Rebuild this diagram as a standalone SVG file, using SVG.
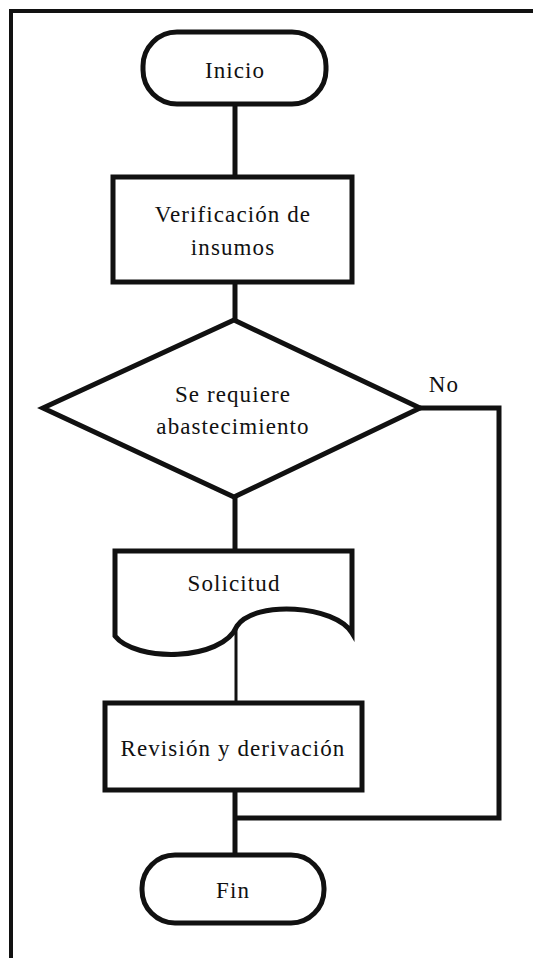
<svg xmlns="http://www.w3.org/2000/svg" width="533" height="958" viewBox="0 0 533 958">
<style>
.s{fill:#fff;stroke:#111;stroke-width:5}
.c{fill:none;stroke:#111;stroke-width:5}
.t{font-family:"Liberation Serif","Times New Roman",serif;font-size:23px;letter-spacing:1.1px;fill:#111;text-anchor:middle}
</style>
<rect width="533" height="958" fill="#fff"/>
<g id="frame"><path d="M11,958 V11 H533" fill="none" stroke="#111" stroke-width="4"/></g>
<g id="connectors">
<path class="c" d="M235,104 V177"/>
<path class="c" d="M235,282 V320"/>
<path class="c" d="M235,497 V551"/>
<path d="M236,628 V703" fill="none" stroke="#111" stroke-width="3"/>
<path class="c" d="M235,790 V855"/>
<path class="c" d="M420,408 H499 V818 H235"/>
<text class="t" x="444" y="392">No</text>
</g>
<g id="inicio"><rect class="s" x="143" y="32" width="183" height="72" rx="34" ry="34"/><text class="t" x="235" y="78">Inicio</text></g>
<g id="verificacion"><rect class="s" x="113" y="177" width="239" height="105"/><text class="t" x="233" y="222">Verificación de</text><text class="t" x="233" y="255">insumos</text></g>
<g id="decision"><polygon class="s" points="234,320 420,408 234,497 43,408"/><text class="t" x="233" y="402">Se requiere</text><text class="t" x="233" y="434">abastecimiento</text></g>
<g id="solicitud"><path class="s" d="M115,551 H352 V633 C335,605 255,600 237,626 C222,662 135,662 115,636 Z"/><text class="t" x="234" y="591">Solicitud</text></g>
<g id="revision"><rect class="s" x="105" y="703" width="257" height="87"/><text class="t" x="233" y="756">Revisión y derivación</text></g>
<g id="fin"><rect class="s" x="142" y="855" width="182" height="68" rx="33" ry="33"/><text class="t" x="233" y="898">Fin</text></g>
</svg>
